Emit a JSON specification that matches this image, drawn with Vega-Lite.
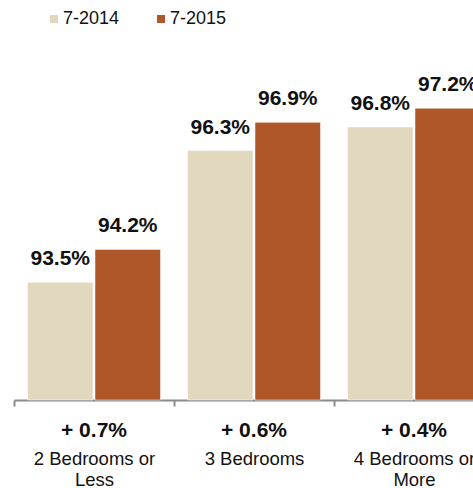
{
  "$schema": "https://vega.github.io/schema/vega-lite/v6.json",
  "autosize": {"type": "none"},
  "padding": {"left": 14, "top": 0, "right": 0, "bottom": 88},
  "width": 480,
  "height": 400,
  "config": {"view": {"stroke": null}, "font": "Liberation Sans"},
  "datasets": {
    "bars": [
      {"group": "2 Bedrooms or Less", "period": "7-2014", "value": 93.5},
      {"group": "2 Bedrooms or Less", "period": "7-2015", "value": 94.2},
      {"group": "3 Bedrooms", "period": "7-2014", "value": 96.3},
      {"group": "3 Bedrooms", "period": "7-2015", "value": 96.9},
      {"group": "4 Bedrooms or More", "period": "7-2014", "value": 96.8},
      {"group": "4 Bedrooms or More", "period": "7-2015", "value": 97.2}
    ],
    "groups": [
      {"group": "2 Bedrooms or Less", "change": "+ 0.7%"},
      {"group": "3 Bedrooms", "change": "+ 0.6%"},
      {"group": "4 Bedrooms or More", "change": "+ 0.4%"}
    ]
  },
  "layer": [
    {
      "data": {"name": "bars"},
      "mark": {"type": "bar", "stroke": "white", "strokeWidth": 0.5},
      "encoding": {
        "x": {
          "field": "group", "type": "nominal", "sort": null,
          "scale": {"paddingInner": 0, "paddingOuter": 0},
          "axis": {
            "title": null, "orient": "bottom",
            "domainColor": "#8a8a8a", "domainWidth": 2,
            "tickColor": "#8a8a8a", "tickWidth": 2, "tickSize": 6, "tickBand": "extent",
            "labelFontSize": 18.5, "labelColor": "#111111", "labelPadding": 43,
            "labelBaseline": "top", "labelLineHeight": 21, "labelAngle": 0, "labelLimit": 0,
            "labelExpr": "datum.value == '2 Bedrooms or Less' ? ['2 Bedrooms or', 'Less'] : datum.value == '4 Bedrooms or More' ? ['4 Bedrooms or', 'More'] : datum.label"
          }
        },
        "xOffset": {"field": "period", "type": "nominal", "scale": {"paddingInner": 0.03, "paddingOuter": 0.2}},
        "y": {"field": "value", "type": "quantitative", "scale": {"domain": [91, 99.5], "zero": false, "nice": false}, "axis": null},
        "y2": {"datum": 91},
        "color": {
          "field": "period", "type": "nominal",
          "scale": {"range": ["#E2D8C0", "#B0572A"]},
          "legend": {
            "orient": "none", "legendX": 31, "legendY": 10, "direction": "horizontal", "title": null,
            "symbolType": "square", "symbolSize": 64, "symbolStrokeWidth": 0, "symbolOpacity": 1,
            "labelFontSize": 18, "labelColor": "#111111", "labelOffset": 0, "columnPadding": 32
          }
        }
      }
    },
    {
      "data": {"name": "bars"},
      "transform": [{"calculate": "format(datum.value, '.1f') + '%'", "as": "label"}],
      "mark": {"type": "text", "baseline": "alphabetic", "dy": -17, "fontSize": 21, "fontWeight": "bold", "color": "#111111"},
      "encoding": {
        "x": {"field": "group", "type": "nominal", "sort": null},
        "xOffset": {"field": "period", "type": "nominal"},
        "y": {"field": "value", "type": "quantitative"},
        "text": {"field": "label"}
      }
    },
    {
      "data": {"name": "groups"},
      "mark": {"type": "text", "baseline": "alphabetic", "fontSize": 21, "fontWeight": "bold", "color": "#111111"},
      "encoding": {
        "x": {"field": "group", "type": "nominal", "sort": null},
        "y": {"datum": 90.21, "type": "quantitative"},
        "text": {"field": "change"}
      }
    }
  ]
}
